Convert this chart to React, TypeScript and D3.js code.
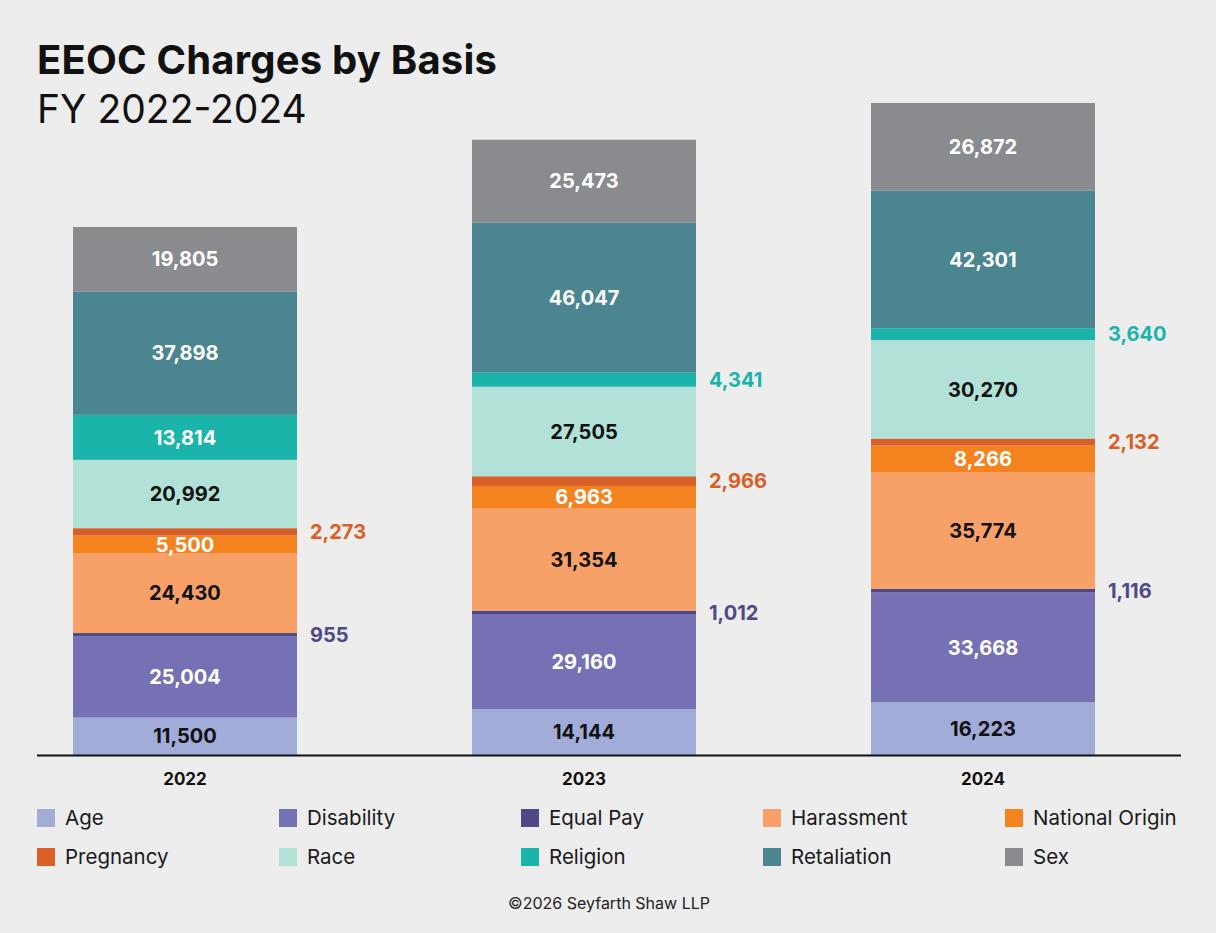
import React, { useEffect, useRef } from 'react';
import * as d3 from 'd3';

const years = ['2022', '2023', '2024'];
const categories = ['Age', 'Disability', 'Equal Pay', 'Harassment', 'National Origin', 'Pregnancy', 'Race', 'Religion', 'Retaliation', 'Sex'];
const age = [11500, 14144, 16223];
const disability = [25004, 29160, 33668];
const equalPay = [955, 1012, 1116];
const harassment = [24430, 31354, 35774];
const nationalOrigin = [5500, 6963, 8266];
const pregnancy = [2273, 2966, 2132];
const race = [20992, 27505, 30270];
const religion = [13814, 4341, 3640];
const retaliation = [37898, 46047, 42301];
const sex = [19805, 25473, 26872];

const colors = ['#a1acd9', '#7571b4', '#4f4a86', '#f7a067', '#f4821f', '#d85f27', '#b2e1d7', '#1ab4ab', '#4b858f', '#8a8b8e'];
const darkText = ['Age', 'Harassment', 'Race'];
const FONT = 'Inter, "Noto Sans", sans-serif';

function App() {
  const svgRef = useRef<SVGSVGElement>(null);

  useEffect(() => {
    document.body.style.margin = '0';
    const width = 1216;
    const height = 933;
    const series = [age, disability, equalPay, harassment, nationalOrigin, pregnancy, race, religion, retaliation, sex];

    const rows = years.map((yr, i) => {
      const row: any = { year: yr };
      categories.forEach((c, j) => { row[c] = series[j][i]; });
      return row;
    });

    const color = d3.scaleOrdinal<string>().domain(categories).range(colors);
    const x = d3.scaleBand().domain(years).range([73, 1095]).paddingInner(0.4386).paddingOuter(0);
    const y = d3.scaleLinear().domain([0, 200000]).range([755, 103.8]);
    const stacked = d3.stack().keys(categories)(rows);

    const svg = d3.select(svgRef.current)
      .attr('width', width)
      .attr('height', height);
    svg.selectAll('*').remove();

    svg.append('rect').attr('width', width).attr('height', height).attr('fill', '#ecedec');

    svg.append('text')
      .attr('x', 37).attr('y', 74)
      .style('font-family', FONT).style('font-weight', 700).style('font-size', '40px')
      .style('letter-spacing', '0.2px')
      .attr('fill', '#111')
      .text('EEOC Charges by Basis');
    svg.append('text')
      .attr('x', 37).attr('y', 123)
      .style('font-family', FONT).style('font-weight', 400).style('font-size', '39px')
      .attr('fill', '#111')
      .text('FY 2022-2024');

    const layers = svg.selectAll('.layer')
      .data(stacked)
      .enter().append('g')
      .attr('class', 'layer')
      .attr('fill', (d) => color(d.key));

    layers.selectAll('rect')
      .data((d) => d.map((p) => ({ p, key: d.key })))
      .enter().append('rect')
      .attr('x', (d) => x(d.p.data.year as any)!)
      .attr('y', (d) => y(d.p[1]))
      .attr('width', x.bandwidth())
      .attr('height', (d) => y(d.p[0]) - y(d.p[1]));

    layers.selectAll('text')
      .data((d) => d.map((p) => ({ p, key: d.key })))
      .enter().append('text')
      .attr('x', (d) => {
        const v = d.p[1] - d.p[0];
        const bx = x(d.p.data.year as any)!;
        return v < 5000 ? bx + x.bandwidth() + 13 : bx + x.bandwidth() / 2;
      })
      .attr('y', (d) => y((d.p[0] + d.p[1]) / 2))
      .attr('dy', '0.36em')
      .style('text-anchor', (d) => (d.p[1] - d.p[0] < 5000 ? 'start' : 'middle'))
      .style('font-family', FONT).style('font-weight', 700).style('font-size', '20px')
      .attr('fill', (d) => {
        const v = d.p[1] - d.p[0];
        if (v < 5000) return color(d.key);
        return darkText.includes(d.key) ? '#111' : '#fff';
      })
      .text((d) => d3.format(',')(d.p[1] - d.p[0]));

    svg.append('line')
      .attr('x1', 37).attr('x2', 1181)
      .attr('y1', 755.5).attr('y2', 755.5)
      .attr('stroke', '#111').attr('stroke-width', 2);

    svg.selectAll('.year')
      .data(years)
      .enter().append('text')
      .attr('class', 'year')
      .attr('x', (d) => x(d)! + x.bandwidth() / 2)
      .attr('y', 779)
      .attr('dy', '0.36em')
      .style('text-anchor', 'middle')
      .style('font-family', FONT).style('font-weight', 700).style('font-size', '17px')
      .attr('fill', '#111')
      .text((d) => d);

    const legend = svg.selectAll('.legend')
      .data(categories)
      .enter().append('g')
      .attr('class', 'legend')
      .attr('transform', (d, i) => `translate(${37 + (i % 5) * 242}, ${809 + Math.floor(i / 5) * 39})`);

    legend.append('rect')
      .attr('width', 18).attr('height', 18)
      .attr('fill', (d) => color(d));

    legend.append('text')
      .attr('x', 28).attr('y', 9)
      .attr('dy', '0.36em')
      .style('font-family', FONT).style('font-size', '20.5px')
      .attr('fill', '#1a1a1a')
      .text((d) => d);

    svg.append('text')
      .attr('x', 609).attr('y', 903)
      .attr('dy', '0.36em')
      .style('text-anchor', 'middle')
      .style('font-family', FONT).style('font-size', '16px')
      .attr('fill', '#222')
      .text('\u00A92026 Seyfarth Shaw LLP');
  }, []);

  return <svg ref={svgRef} style={{ display: 'block' }}></svg>;
}

export default App;
